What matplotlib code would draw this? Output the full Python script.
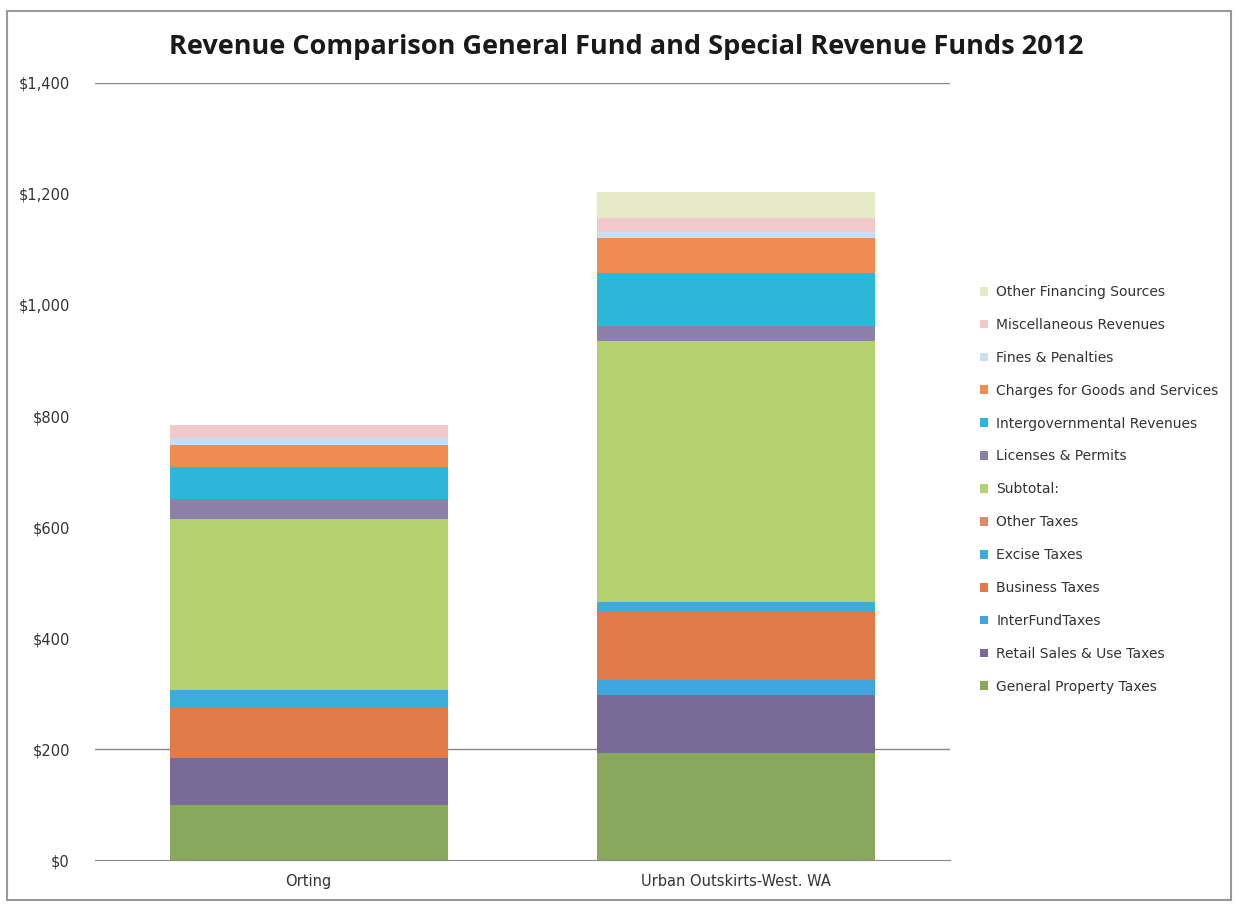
import matplotlib.pyplot as plt
from matplotlib.patches import Rectangle
from matplotlib.ticker import FuncFormatter

# categories and revenue series ($ per capita), stacked bottom to top
cities = ["Orting", "Urban Outskirts-West. WA"]
series_names = [
    "General Property Taxes",
    "Retail Sales & Use Taxes",
    "InterFundTaxes",
    "Business Taxes",
    "Excise Taxes",
    "Other Taxes",
    "Subtotal:",
    "Licenses & Permits",
    "Intergovernmental Revenues",
    "Charges for Goods and Services",
    "Fines & Penalties",
    "Miscellaneous Revenues",
    "Other Financing Sources",
]
general_property = [99, 193]
retail_sales = [85, 104]
interfund = [0, 27]
business = [90, 122]
excise = [32, 18]
other_taxes = [0, 0]
subtotal = [308, 472]
licenses = [36, 27]
intergovernmental = [58, 94]
charges = [40, 63]
fines = [12, 11]
miscellaneous = [24, 25]
other_financing = [0, 47]

values = [general_property, retail_sales, interfund, business, excise,
          other_taxes, subtotal, licenses, intergovernmental, charges,
          fines, miscellaneous, other_financing]

colors = ["#8aa85c", "#7a6a98", "#3ea6dc", "#e07a48", "#3aaed8",
          "#e08a6c", "#b3d26f", "#8c80a8", "#2cb6d8", "#f08c52",
          "#c9def0", "#f2c9ca", "#e5e9c6"]

fig = plt.figure(figsize=(12.38, 9.07), dpi=100)
ax = fig.add_axes([0.0767, 0.0518, 0.6906, 0.8567])

# stacked bars
x = range(len(cities))
bottom = [0] * len(cities)
handles = []
for name, vals, col in zip(series_names, values, colors):
    bars = ax.bar(x, vals, 0.65, bottom=bottom, color=col, label=name,
                  linewidth=0)
    handles.append(bars)
    bottom = [b + v for b, v in zip(bottom, vals)]

ax.set_xlim(-0.5, 1.5)
ax.set_ylim(0, 1400)
ax.set_yticks(range(0, 1401, 200))
ax.yaxis.set_major_formatter(FuncFormatter(lambda v, p: "${:,.0f}".format(v)))
ax.set_xticks(list(x))
ax.set_xticklabels(cities)
ax.tick_params(axis="both", length=0, labelsize=10.5, colors="#333333")
ax.tick_params(axis="y", pad=18)
ax.tick_params(axis="x", pad=10)

for side in ["top", "right", "left"]:
    ax.spines[side].set_visible(False)
ax.spines["bottom"].set_color("#888888")

# the only grid lines left in the print
for level in [200, 1400]:
    ax.axhline(level, color="#888888", linewidth=1, zorder=0)

fig.suptitle("Revenue Comparison General Fund and Special Revenue Funds 2012",
             x=0.506, y=0.962, fontsize=19.5, fontweight="bold",
             family="Open Sans", color="#1a1a1a")

leg = ax.legend(handles[::-1], series_names[::-1], loc="center left",
                bbox_to_anchor=(1.02, 0.477), frameon=False, fontsize=10,
                handlelength=0.6, handleheight=0.6, handletextpad=0.6,
                labelspacing=1.36)
for t in leg.get_texts():
    t.set_color("#333333")

# chart area border
fig.patches.append(Rectangle((0.006, 0.008), 0.988, 0.98, transform=fig.transFigure,
                             fill=False, edgecolor="#999999", linewidth=1.5))

fig.savefig("out.png", dpi=100)
